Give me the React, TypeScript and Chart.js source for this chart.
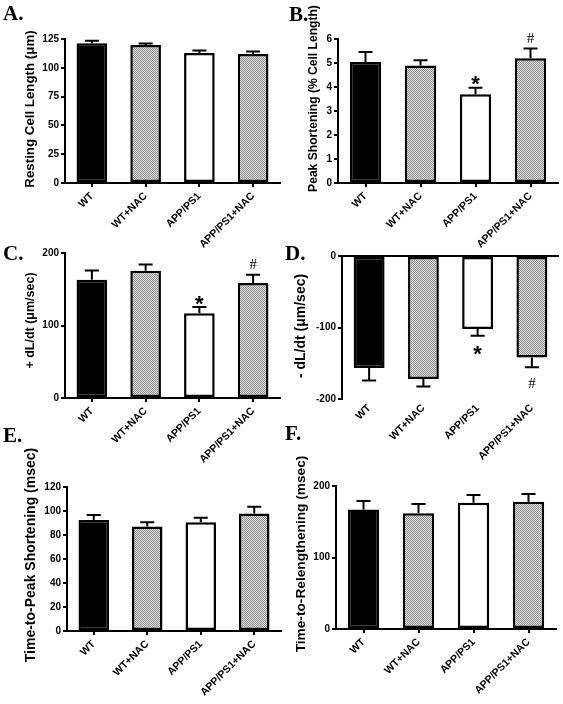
import React, { useEffect, useRef } from 'react';
import { Chart, registerables } from 'chart.js';

Chart.register(...registerables);

// ---- data ----
const categories = ['WT', 'WT+NAC', 'APP/PS1', 'APP/PS1+NAC'];

const restingLength = [121.3, 119.8, 112.8, 112.0];
const restingLengthErr = [2.2, 1.4, 2.2, 2.2];

const peakShortening = [5.04, 4.9, 3.7, 5.2];
const peakShorteningErr = [0.42, 0.21, 0.27, 0.4];

const plusDLdt = [163, 175.6, 117, 158.6];
const plusDLdtErr = [13, 8.4, 8.5, 11.4];

const minusDLdt = [-156.8, -172, -102, -142];
const minusDLdtErr = [17.2, 10.5, 9.4, 13.5];

const timeToPeak = [92.5, 87, 90.6, 98];
const timeToPeakErr = [4.2, 3.6, 3.8, 5.6];

const timeToRelength = [167, 161.8, 176.6, 178];
const timeToRelengthErr = [12, 13, 10.7, 10.7];

const noMarks = ['', '', '', ''];
const sigMarks = ['', '', '*', '#'];

const yTicksA = { min: 0, max: 125, step: 25 };
const yTicksB = { min: 0, max: 6, step: 1 };
const yTicksC = { min: 0, max: 200, step: 100 };
const yTicksD = { min: -200, max: 0, step: 100 };
const yTicksE = { min: 0, max: 120, step: 20 };
const yTicksF = { min: 0, max: 200, step: 100 };

// ---- layout (page pixels) ----
const W = 563;
const H = 704;
const X_AXIS_H = 70;

type Panel = {
  letter: string;
  letterX: number;
  letterY: number;
  title: string;
  titleX: number;
  titleY: number;
  titleSize: number;
  values: number[];
  errors: number[];
  marks: string[];
  ticks: { min: number; max: number; step: number };
  panelX: number;
  area: { left: number; right: number; top: number; bottom: number };
  zeroTop?: boolean;
};

const panels: Panel[] = [
  {
    letter: 'A.', letterX: 3, letterY: 20,
    title: 'Resting Cell Length (\u03bcm)', titleX: 30, titleY: 109, titleSize: 13.3,
    values: restingLength, errors: restingLengthErr, marks: noMarks, ticks: yTicksA,
    panelX: 0, area: { left: 65, right: 280, top: 39, bottom: 183 },
  },
  {
    letter: 'B.', letterX: 289, letterY: 21,
    title: 'Peak Shortening (% Cell Length)', titleX: 314, titleY: 98.5, titleSize: 12.1,
    values: peakShortening, errors: peakShorteningErr, marks: sigMarks, ticks: yTicksB,
    panelX: 282, area: { left: 338, right: 558, top: 39, bottom: 183 },
  },
  {
    letter: 'C.', letterX: 3, letterY: 260,
    title: '+ dL/dt (\u03bcm/sec)', titleX: 31, titleY: 320.5, titleSize: 12.5,
    values: plusDLdt, errors: plusDLdtErr, marks: sigMarks, ticks: yTicksC,
    panelX: 0, area: { left: 65, right: 280, top: 253, bottom: 398 },
  },
  {
    letter: 'D.', letterX: 285, letterY: 260,
    title: '- dL/dt (\u03bcm/sec)', titleX: 301, titleY: 326, titleSize: 14,
    values: minusDLdt, errors: minusDLdtErr, marks: sigMarks, ticks: yTicksD,
    panelX: 282, area: { left: 342, right: 559, top: 256, bottom: 399 },
    zeroTop: true,
  },
  {
    letter: 'E.', letterX: 3, letterY: 442,
    title: 'Time-to-Peak Shortening (msec)', titleX: 31, titleY: 555, titleSize: 14,
    values: timeToPeak, errors: timeToPeakErr, marks: noMarks, ticks: yTicksE,
    panelX: 0, area: { left: 67, right: 281, top: 487, bottom: 631 },
  },
  {
    letter: 'F.', letterX: 285, letterY: 440,
    title: 'Time-to-Relengthening (msec)', titleX: 301, titleY: 554, titleSize: 13.7,
    values: timeToRelength, errors: timeToRelengthErr, marks: noMarks, ticks: yTicksF,
    panelX: 282, area: { left: 336, right: 556, top: 486, bottom: 629 },
  },
];

const SANS = "'Liberation Sans', Arial, sans-serif";
const SERIF = "'Liberation Serif', 'Times New Roman', serif";

function makeGrayPattern(): CanvasPattern | string {
  const c = document.createElement('canvas');
  c.width = 2;
  c.height = 2;
  const g = c.getContext('2d');
  if (!g) return '#b4b4b4';
  g.fillStyle = '#dcdcdc';
  g.fillRect(0, 0, 2, 2);
  g.fillStyle = '#909090';
  g.fillRect(0, 0, 1, 1);
  g.fillRect(1, 1, 1, 1);
  return g.createPattern(c, 'repeat') || '#b4b4b4';
}

function PanelChart({ p }: { p: Panel }) {
  const ref = useRef<HTMLCanvasElement | null>(null);

  useEffect(() => {
    if (!ref.current) return;
    const gray = makeGrayPattern();
    const yW = p.area.left - p.panelX;

    const overlay = {
      id: 'errorBarsAndMarks',
      afterDatasetsDraw(chart: any) {
        const ctx = chart.ctx as CanvasRenderingContext2D;
        const y = chart.scales.y;
        const meta = chart.getDatasetMeta(0);
        ctx.save();
        meta.data.forEach((bar: any, i: number) => {
          const v = p.values[i];
          const dir = v >= 0 ? 1 : -1;
          const end = y.getPixelForValue(v + dir * p.errors[i]);
          ctx.strokeStyle = '#000';
          ctx.lineWidth = 2;
          ctx.beginPath();
          ctx.moveTo(bar.x, bar.y);
          ctx.lineTo(bar.x, end);
          ctx.moveTo(bar.x - 7, end);
          ctx.lineTo(bar.x + 7, end);
          ctx.stroke();
          const m = p.marks[i];
          if (m) {
            ctx.fillStyle = '#000';
            ctx.textAlign = 'center';
            ctx.textBaseline = 'alphabetic';
            if (m === '*') {
              ctx.font = `bold 22px ${SANS}`;
              ctx.fillText(m, bar.x, dir > 0 ? end + 3.5 : end + 25);
            } else {
              ctx.font = `15px ${SERIF}`;
              ctx.fillText(m, bar.x, dir > 0 ? end - 6 : end + 21);
            }
          }
        });
        ctx.restore();
      },
      afterDraw(chart: any) {
        const ctx = chart.ctx as CanvasRenderingContext2D;
        ctx.save();
        ctx.fillStyle = '#000';
        ctx.font = `bold 21px ${SERIF}`;
        ctx.textAlign = 'left';
        ctx.textBaseline = 'alphabetic';
        ctx.fillText(p.letter, p.letterX, p.letterY);
        ctx.translate(p.titleX, p.titleY);
        ctx.rotate(-Math.PI / 2);
        ctx.font = `bold ${p.titleSize}px ${SANS}`;
        ctx.textAlign = 'center';
        ctx.textBaseline = 'middle';
        ctx.fillText(p.title, 0, 0);
        ctx.restore();
      },
    };

    const chart = new Chart(ref.current, {
      type: 'bar',
      data: {
        labels: categories,
        datasets: [
          {
            data: p.values,
            backgroundColor: ['#000000', gray, '#ffffff', gray] as any,
            borderColor: '#000000',
            borderWidth: 2.5,
            borderSkipped: false,
            barPercentage: 0.57,
            categoryPercentage: 1,
          },
        ],
      },
      options: {
        responsive: false,
        animation: false,
        events: [],
        layout: {
          padding: {
            left: p.panelX,
            top: p.area.top,
            right: W - p.area.right,
            bottom: H - p.area.bottom - X_AXIS_H,
          },
        },
        plugins: {
          legend: { display: false },
          tooltip: { enabled: false },
        },
        scales: {
          x: {
            type: 'category',
            offset: true,
            grid: {
              display: !p.zeroTop,
              offset: false,
              drawOnChartArea: false,
              drawTicks: !p.zeroTop,
              tickLength: 4,
              lineWidth: 2,
              color: '#000',
            },
            border: { display: !p.zeroTop, color: '#000', width: 2 },
            ticks: {
              color: '#000',
              maxRotation: 45,
              minRotation: 45,
              padding: 3,
              font: { family: SANS, size: 10.5, weight: 'bold' },
            },
            afterFit: (s: any) => {
              s.height = X_AXIS_H;
              s.paddingLeft = 0;
              s.paddingRight = 0;
            },
          },
          y: {
            min: p.ticks.min,
            max: p.ticks.max,
            ticks: {
              stepSize: p.ticks.step,
              color: '#000',
              padding: 2,
              font: { family: SANS, size: 10, weight: 'bold' },
            },
            grid: {
              drawOnChartArea: !!p.zeroTop,
              drawTicks: true,
              tickLength: 4,
              lineWidth: 2,
              tickColor: '#000',
              color: (c: any) =>
                p.zeroTop ? (c.tick && c.tick.value === 0 ? '#000' : 'rgba(0,0,0,0)') : '#000',
            },
            border: { display: true, color: '#000', width: 2 },
            title: { display: false },
            afterFit: (s: any) => {
              s.width = yW;
              s.paddingTop = 0;
              s.paddingBottom = 0;
            },
          },
        },
      },
      plugins: [overlay],
    });

    return () => chart.destroy();
  }, [p]);

  return (
    <canvas
      ref={ref}
      width={W}
      height={H}
      style={{ position: 'absolute', left: 0, top: 0, width: W, height: H }}
    />
  );
}

export default function App() {
  return (
    <div
      style={{
        position: 'absolute',
        left: 0,
        top: 0,
        width: W,
        height: H,
        background: '#fff',
        overflow: 'hidden',
      }}
    >
      {panels.map((p) => (
        <PanelChart key={p.letter} p={p} />
      ))}
    </div>
  );
}
